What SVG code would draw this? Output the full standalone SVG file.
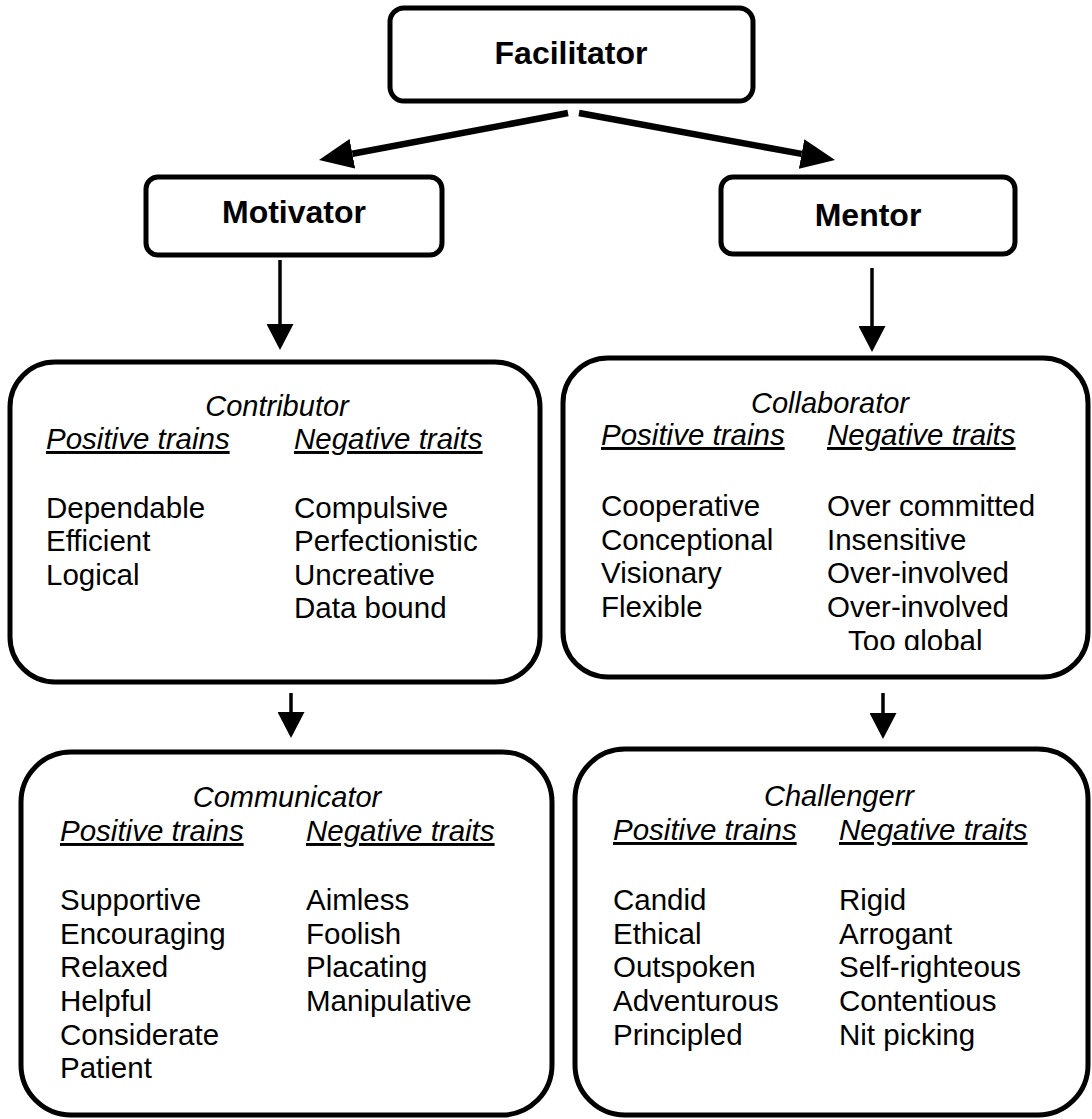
<svg xmlns="http://www.w3.org/2000/svg" width="1092" height="1119" viewBox="0 0 1092 1119">
<style>
.box{fill:#fff;stroke:#000;stroke-width:5}
.title{font-family:"Liberation Sans",Arial,sans-serif;font-weight:bold;font-size:32px;fill:#000;text-anchor:middle}
.name{font-family:"Liberation Sans",Arial,sans-serif;font-style:italic;font-size:29px;fill:#000;text-anchor:middle}
.hdr{font-family:"Liberation Sans",Arial,sans-serif;font-style:italic;font-size:29.5px;fill:#000;text-decoration:underline}
.item{font-family:"Liberation Sans",Arial,sans-serif;font-size:29.5px;fill:#000}
.thick{stroke:#000;stroke-width:6.5;fill:none}
.thin{stroke:#000;stroke-width:3.5;fill:none}
</style>
<defs>
<marker id="headBig" markerUnits="userSpaceOnUse" viewBox="0 0 34 30" refX="0" refY="15" markerWidth="34" markerHeight="30" orient="auto">
<path d="M0,0 L34,15 L0,30 Z" fill="#000"/>
</marker>
<marker id="headSmall" markerUnits="userSpaceOnUse" viewBox="0 0 26 27" refX="0" refY="13.5" markerWidth="26" markerHeight="27" orient="auto">
<path d="M0,0 L26,13.5 L0,27 Z" fill="#000"/>
</marker>
<clipPath id="clipCollab"><rect x="563" y="358" width="525" height="292"/></clipPath>
</defs>
<rect width="1092" height="1119" fill="#fff"/>

<g id="connectors">
<line class="thick" x1="568" y1="113" x2="352.4" y2="153.7" marker-end="url(#headBig)"/>
<line class="thick" x1="579" y1="113" x2="801.6" y2="153.9" marker-end="url(#headBig)"/>
<line class="thin" x1="280" y1="260" x2="280" y2="324" marker-end="url(#headSmall)"/>
<line class="thin" x1="872" y1="268" x2="872" y2="326" marker-end="url(#headSmall)"/>
<line class="thin" x1="291" y1="693" x2="291" y2="712" marker-end="url(#headSmall)"/>
<line class="thin" x1="883" y1="693" x2="883" y2="713" marker-end="url(#headSmall)"/>
</g>

<g id="facilitator">
<rect class="box" x="390" y="8" width="363" height="93" rx="14"/>
<text class="title" x="571" y="64">Facilitator</text>
</g>

<g id="motivator">
<rect class="box" x="146" y="177" width="296" height="78" rx="12"/>
<text class="title" x="294" y="223">Motivator</text>
</g>

<g id="mentor">
<rect class="box" x="721" y="177" width="294" height="77" rx="12"/>
<text class="title" x="868" y="226">Mentor</text>
</g>

<g id="contributor">
<rect class="box" x="10" y="362" width="530" height="320" rx="45"/>
<text class="name" x="277" y="416">Contributor</text>
<text class="hdr" x="46" y="449">Positive trains</text>
<text class="hdr" x="294" y="449">Negative traits</text>
<text class="item" x="46" y="518">Dependable</text>
<text class="item" x="46" y="551">Efficient</text>
<text class="item" x="46" y="585">Logical</text>
<text class="item" x="294" y="518">Compulsive</text>
<text class="item" x="294" y="551">Perfectionistic</text>
<text class="item" x="294" y="585">Uncreative</text>
<text class="item" x="294" y="618">Data bound</text>
</g>

<g id="collaborator">
<rect class="box" x="563" y="358" width="525" height="319" rx="45"/>
<text class="name" x="830" y="413">Collaborator</text>
<text class="hdr" x="601" y="445">Positive trains</text>
<text class="hdr" x="827" y="445">Negative traits</text>
<text class="item" x="601" y="516">Cooperative</text>
<text class="item" x="601" y="550">Conceptional</text>
<text class="item" x="601" y="583">Visionary</text>
<text class="item" x="601" y="617">Flexible</text>
<text class="item" x="827" y="516">Over committed</text>
<text class="item" x="827" y="550">Insensitive</text>
<text class="item" x="827" y="583">Over-involved</text>
<text class="item" x="827" y="617">Over-involved</text>
<text class="item" x="848" y="651" clip-path="url(#clipCollab)">Too global</text>
</g>

<g id="communicator">
<rect class="box" x="21" y="752" width="531" height="363" rx="50"/>
<text class="name" x="287" y="807">Communicator</text>
<text class="hdr" x="60" y="841">Positive trains</text>
<text class="hdr" x="306" y="841">Negative traits</text>
<text class="item" x="60" y="910">Supportive</text>
<text class="item" x="60" y="944">Encouraging</text>
<text class="item" x="60" y="977">Relaxed</text>
<text class="item" x="60" y="1011">Helpful</text>
<text class="item" x="60" y="1045">Considerate</text>
<text class="item" x="60" y="1078">Patient</text>
<text class="item" x="306" y="910">Aimless</text>
<text class="item" x="306" y="944">Foolish</text>
<text class="item" x="306" y="977">Placating</text>
<text class="item" x="306" y="1011">Manipulative</text>
</g>

<g id="challenger">
<rect class="box" x="575" y="749" width="513" height="366" rx="50"/>
<text class="name" x="839" y="806">Challengerr</text>
<text class="hdr" x="613" y="840">Positive trains</text>
<text class="hdr" x="839" y="840">Negative traits</text>
<text class="item" x="613" y="910">Candid</text>
<text class="item" x="613" y="944">Ethical</text>
<text class="item" x="613" y="977">Outspoken</text>
<text class="item" x="613" y="1011">Adventurous</text>
<text class="item" x="613" y="1045">Principled</text>
<text class="item" x="839" y="910">Rigid</text>
<text class="item" x="839" y="944">Arrogant</text>
<text class="item" x="839" y="977">Self-righteous</text>
<text class="item" x="839" y="1011">Contentious</text>
<text class="item" x="839" y="1045">Nit picking</text>
</g>
</svg>
